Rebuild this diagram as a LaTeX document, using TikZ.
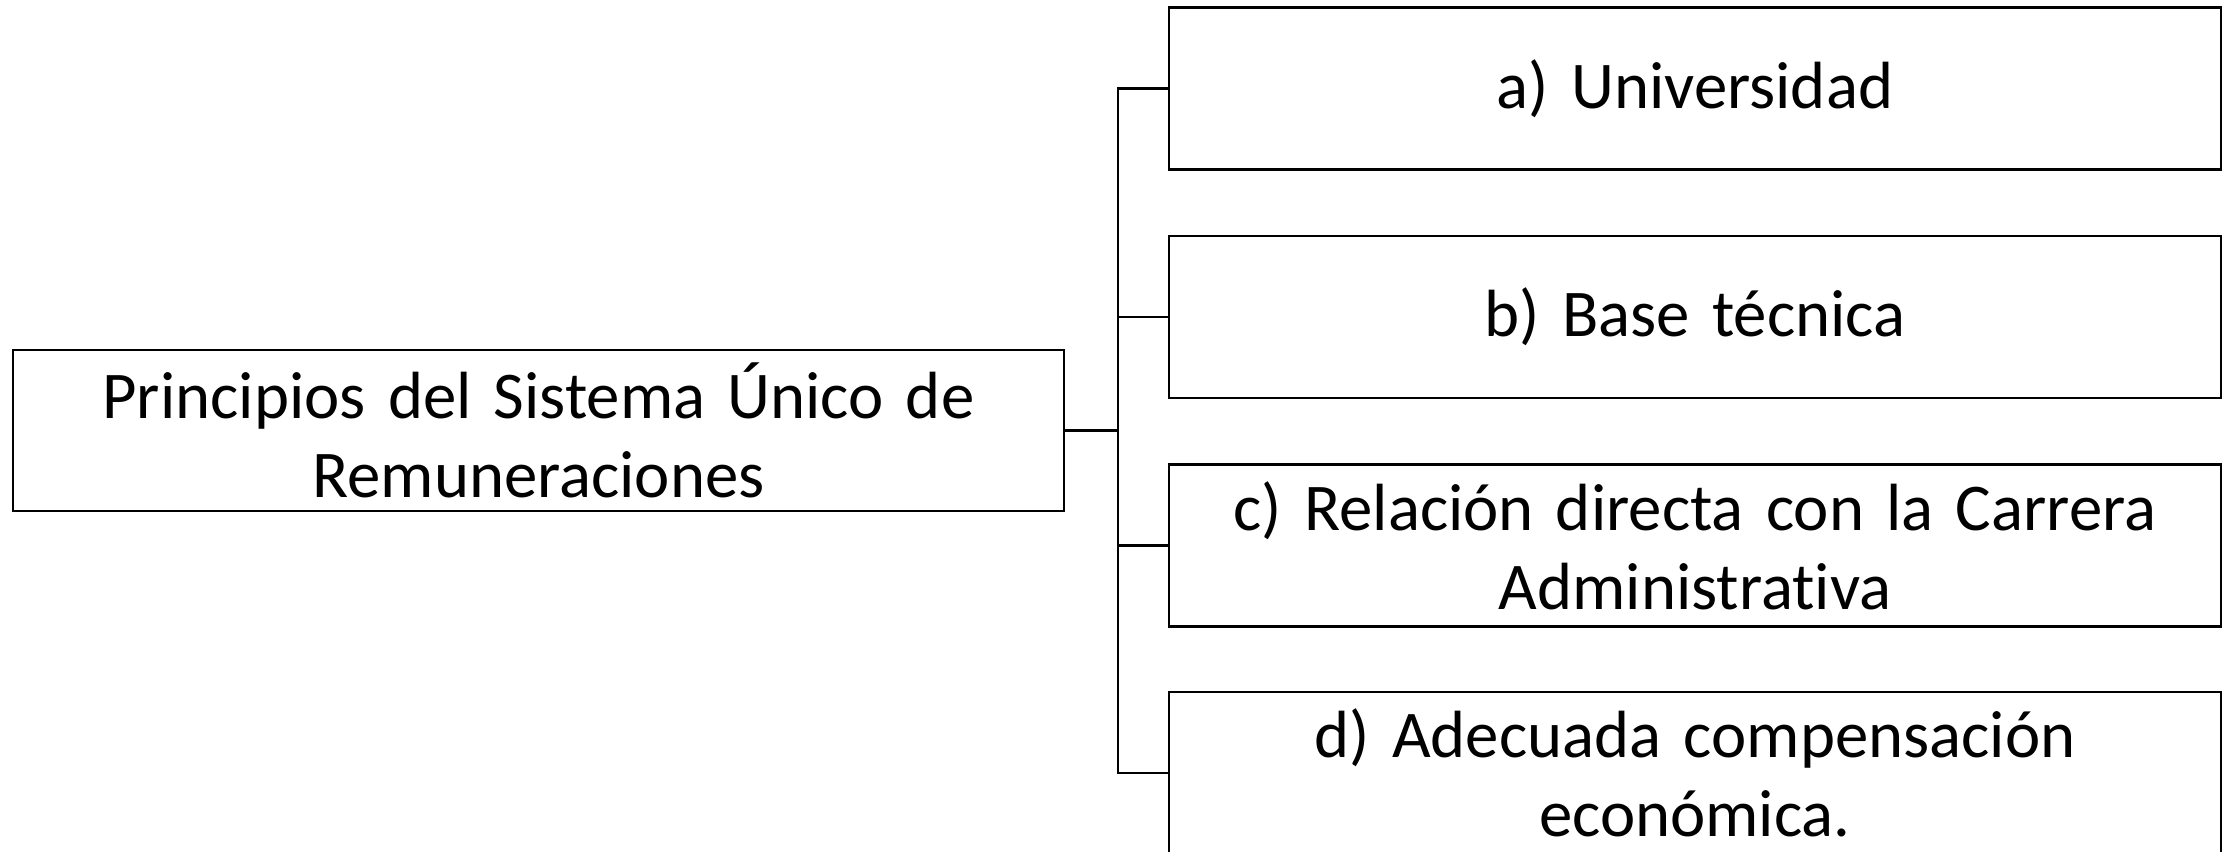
\documentclass[tikz,border=0pt]{standalone}
\usepackage{fontspec}
\setmainfont{Carlito}[Ligatures=NoCommon]
\usetikzlibrary{calc}
\begin{document}
\begin{tikzpicture}[
  box/.style={draw=black, line width=0.7pt, rectangle, inner sep=0pt, align=center,
    minimum width=10.52cm, minimum height=1.62cm, text width=10.4cm,
    font=\fontsize{19}{22.5}\selectfont},
  link/.style={draw=black, line width=0.7pt}
]
\clip (0,0) rectangle (22.33,8.52);
\fill[white] (0,0) rectangle (22.33,8.52);
\node[box, minimum width=10.51cm, minimum height=1.61cm] (L) at (5.385,4.215) {Principios del Sistema Único de\\Remuneraciones};
\node[box] (a) at (16.95,7.635) {a) Universidad};
\node[box] (b) at (16.95,5.35) {b) Base técnica};
\node[box] (c) at (16.95,3.065) {c) Relación directa con la Carrera\\Administrativa};
\node[box] (d) at (16.95,0.79) {d) Adecuada compensación\\económica.};
\coordinate (J) at ($(L.east)+(0.525,0)$);
\draw[link] (L.east) -- (J);
\draw[link] (J) |- (a.west);
\draw[link] (J) |- (b.west);
\draw[link] (J) |- (c.west);
\draw[link] (J) |- (d.west);
\end{tikzpicture}
\end{document}
